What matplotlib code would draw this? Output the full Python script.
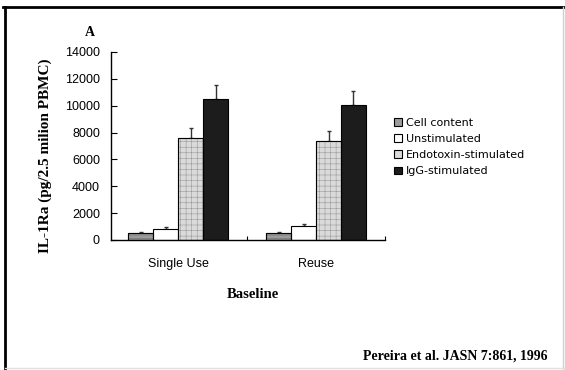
import matplotlib
matplotlib.use("Agg")
import matplotlib.pyplot as plt
from matplotlib.patches import Patch
from matplotlib.lines import Line2D
import numpy as np

categories = ["Single Use", "Reuse"]
series_names = ["Cell content", "Unstimulated", "Endotoxin-stimulated", "IgG-stimulated"]
cell_content = [500, 500]
unstimulated = [800, 1040]
endotoxin = [7570, 7370]
igg = [10470, 10050]
cell_content_err = [80, 80]
unstimulated_err = [150, 150]
endotoxin_err = [750, 740]
igg_err = [1070, 1040]
y_ticks = [0, 2000, 4000, 6000, 8000, 10000, 12000, 14000]

SANS = "Liberation Sans"
SERIF = "Liberation Serif"

fig = plt.figure(figsize=(5.65, 3.7), dpi=100)
W, H = 565, 370
ax = fig.add_axes([111 / W, 1 - 240 / H, 274 / W, 188 / H])

values = [cell_content, unstimulated, endotoxin, igg]
errs = [cell_content_err, unstimulated_err, endotoxin_err, igg_err]
faces = ["#9c9c9c", "white", "#dadada", "#1c1c1c"]
hatches = ["-----", None, "+++", None]
hatch_cols = ["#6a6a6a", "black", "#9a9a9a", "black"]
width = 0.181
x = np.arange(len(categories))
plt.rcParams["hatch.linewidth"] = 0.4
for i, (v, e) in enumerate(zip(values, errs)):
    pos = x + (i - 1.5) * width
    bars = ax.bar(pos, v, width=width, color=faces[i], edgecolor="black",
                  linewidth=0.8, hatch=hatches[i], zorder=2)
    if hatches[i]:
        for b in bars:
            b.set_edgecolor(hatch_cols[i])
        ax.bar(pos, v, width=width, color="none", edgecolor="black",
               linewidth=0.8, zorder=3)
    ax.errorbar(pos, v, yerr=[np.zeros(len(e)), e], fmt="none",
                ecolor="#333333", elinewidth=1, capsize=1.5, capthick=1, zorder=1)

ax.set_xlim(-0.486, 1.5)
ax.set_ylim(0, 14000)
ax.set_yticks(y_ticks)
ax.set_yticklabels([str(t) for t in y_ticks], fontfamily=SANS, fontsize=9)
ax.set_xticks(x)
ax.set_xticklabels(categories, fontfamily=SANS, fontsize=9)
ax.set_xticks([0.5, 1.5], minor=True)
ax.tick_params(axis="x", which="major", length=0, pad=13)
ax.tick_params(axis="x", which="minor", direction="in", length=3, width=0.8)
ax.tick_params(axis="y", direction="in", length=4, width=0.8, pad=8)
for s in ["top", "right"]:
    ax.spines[s].set_visible(False)
for s in ["left", "bottom"]:
    ax.spines[s].set_linewidth(1.0)

ax.set_ylabel("IL-1Ra (pg/2.5 milion PBMC)", fontfamily=SERIF, fontweight="bold",
              fontsize=11)
ax.yaxis.set_label_coords((52 - 111) / 274, 0.45)

fig.text(90 / W, 1 - 32 / H, "A", fontfamily=SERIF, fontweight="bold",
         fontsize=10, ha="center", va="center")
fig.text(253 / W, 1 - 295 / H, "Baseline", fontfamily=SERIF, fontweight="bold",
         fontsize=10.5, ha="center", va="center")
fig.text(455 / W, 1 - 356 / H, "Pereira et al. JASN 7:861, 1996", fontfamily=SERIF,
         fontweight="bold", fontsize=10, ha="center", va="center")

handles = [Patch(facecolor=faces[i], edgecolor="black", linewidth=0.8)
           for i in range(4)]
fig.legend(handles, series_names, loc="upper left",
           bbox_to_anchor=(394 / W, 1 - 118 / H), frameon=False,
           prop={"family": "DejaVu Sans", "size": 8}, handlelength=0.7,
           handleheight=0.7, handletextpad=0.35, labelspacing=0.55,
           borderaxespad=0, borderpad=0)

fig.add_artist(Line2D([3 / W, 1], [1 - 7 / H, 1 - 7 / H], color="black", lw=2))
fig.add_artist(Line2D([5 / W, 5 / W], [0, 1 - 7 / H], color="black", lw=2))
fig.add_artist(Line2D([563 / W, 563 / W], [0, 1 - 7 / H], color="#d0d0d0", lw=1))
fig.add_artist(Line2D([5 / W, 1], [2 / H, 2 / H], color="#e0e0e0", lw=1))

fig.savefig("out.png", dpi=100)
